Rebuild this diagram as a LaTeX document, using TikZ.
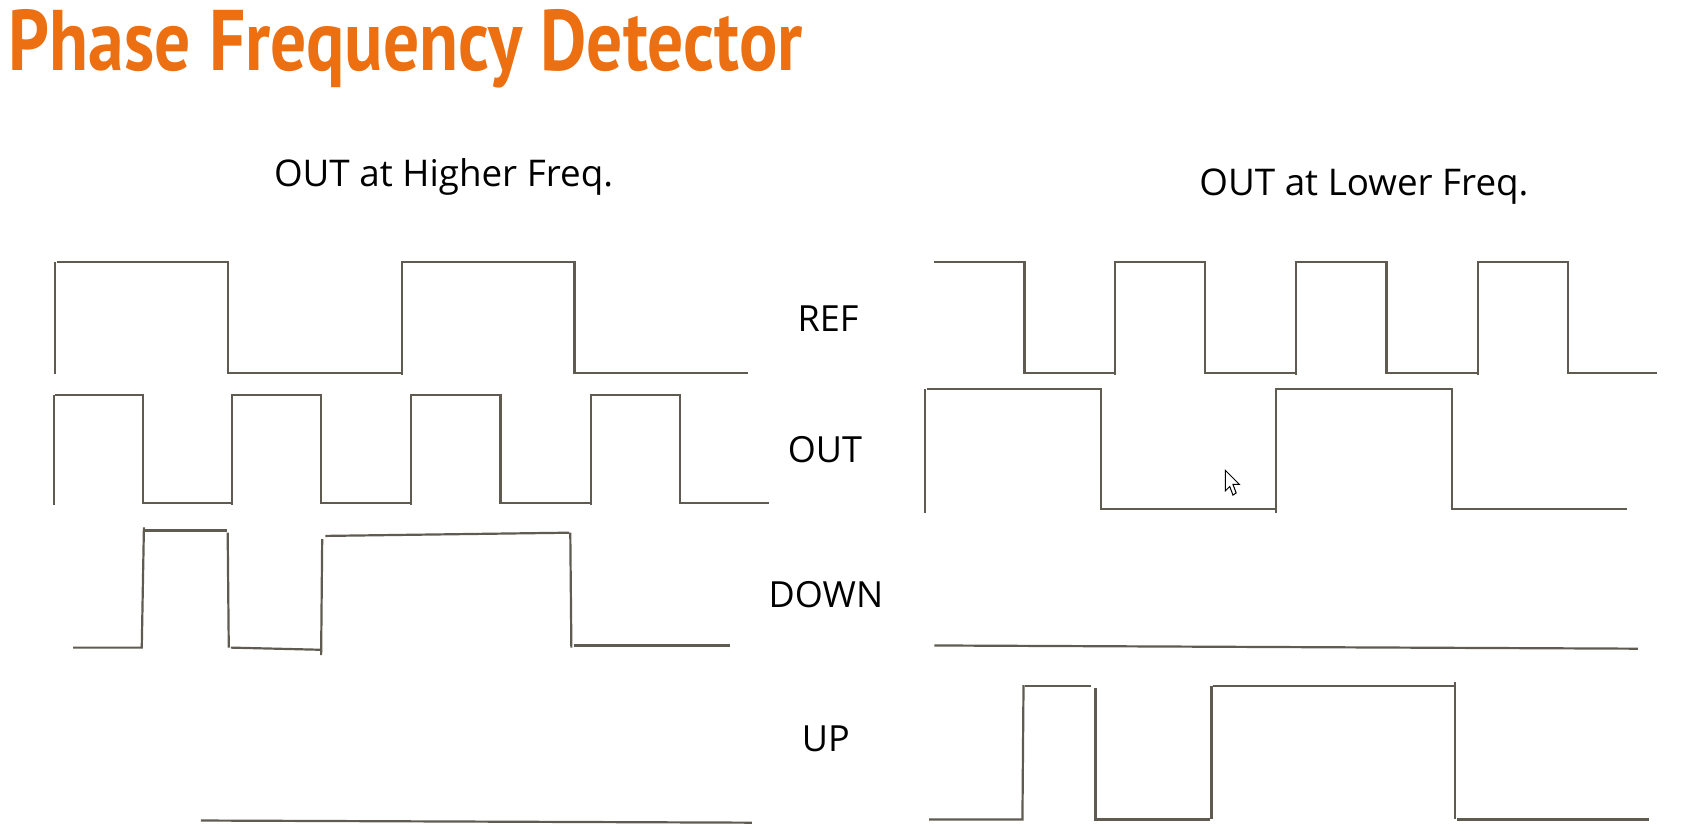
\documentclass[tikz,border=0pt]{standalone}
\usepackage{fontspec}
\setmainfont{Open Sans}
\newfontfamily\titlefont{PT Sans}
\definecolor{titleorange}{RGB}{236,112,18}
\definecolor{wave}{RGB}{96,91,80}
\begin{document}
\begin{tikzpicture}[x=0.537pt,y=-0.537pt,
  sig/.style={draw=wave,line width=1.1pt,line join=miter},
  lbl/.style={inner sep=0pt,anchor=base,font=\fontsize{18}{20}\selectfont,text=black},
  hdr/.style={inner sep=0pt,anchor=base,font=\fontsize{18.4}{20}\selectfont,text=black}]
\fill[white] (0,0) rectangle (1568,773);
\useasboundingbox (0,0) rectangle (1568,773);
% title
\node[inner sep=0pt,anchor=base west,text=titleorange] (title) at (8,66)
  {\resizebox{397pt}{\height}{\titlefont\fontsize{43}{43}\selectfont\bfseries Phase Frequency Detector}};
% headers
\node[hdr] (hleft) at (413,174) {OUT at Higher Freq.};
\node[hdr] (hright) at (1270,182) {OUT at Lower Freq.};
% labels
\node[lbl] (lref) at (771,309) {REF};
\node[lbl] (lout) at (768,431) {OUT};
\node[lbl] (ldown) at (769,566) {DOWN};
\node[lbl] (lup) at (769,700) {UP};
% ---------- left: OUT at higher freq ----------
% REF
\draw[sig] (51,348) -- (51,244);
\draw[sig] (53,244) -- (212,244) -- (212,347) -- (373,347);
\draw[sig] (374,349) -- (374,244) -- (535,244) -- (535,347) -- (696,347);
% OUT
\draw[sig] (50,470) -- (50,368);
\draw[sig] (51,368) -- (133,368) -- (133,468) -- (216,468);
\draw[sig] (216,470) -- (216,368) -- (299,368) -- (299,468) -- (382,468);
\draw[sig] (383,470) -- (383,368) -- (466,368) -- (466,468) -- (549,468);
\draw[sig] (550,470) -- (550,368) -- (633,368) -- (633,468) -- (716,468);
% DOWN
\draw[sig] (68,603) -- (132,603) -- (134,491);
\draw[sig] (133,494) -- (211,494);
\draw[sig] (212,496) -- (213,603);
\draw[sig] (215,603) -- (298,605);
\draw[sig] (299,610) -- (300,502);
\draw[sig] (303,499) -- (530,496);
\draw[sig] (531,496) -- (532,603);
\draw[sig] (534,601) -- (680,601);
% UP
\draw[sig] (187,764) -- (700,766);
% ---------- right: OUT at lower freq ----------
% REF
\draw[sig] (870,244) -- (954,244) -- (954,347) -- (1037,347);
\draw[sig] (1038,349) -- (1038,244) -- (1122,244) -- (1122,347) -- (1206,347);
\draw[sig] (1207,349) -- (1207,244) -- (1291,244) -- (1291,347) -- (1375,347);
\draw[sig] (1376,349) -- (1376,244) -- (1460,244) -- (1460,347) -- (1543,347);
% OUT
\draw[sig] (861,478) -- (861,362);
\draw[sig] (863,362) -- (1025,362) -- (1025,474) -- (1187,474);
\draw[sig] (1188,478) -- (1188,362) -- (1352,362) -- (1352,474) -- (1515,474);
% DOWN
\draw[sig] (870,601) -- (1525,604);
% UP
\draw[sig] (865,763) -- (952,763) -- (953,638);
\draw[sig] (954,639) -- (1016,639);
\draw[sig] (1020,641) -- (1020,763) -- (1127,763);
\draw[sig] (1128,763) -- (1128,639);
\draw[sig] (1129,639) -- (1354,639);
\draw[sig] (1355,635) -- (1355,763);
\draw[sig] (1357,763) -- (1535,763);
% cursor
\draw[black,line width=0.5pt,fill=white,line join=miter]
  (1141,438) -- (1141,457) -- (1145,453) -- (1148,461) -- (1151,459) -- (1148,451) -- (1154,451) -- cycle;
\end{tikzpicture}
\end{document}
